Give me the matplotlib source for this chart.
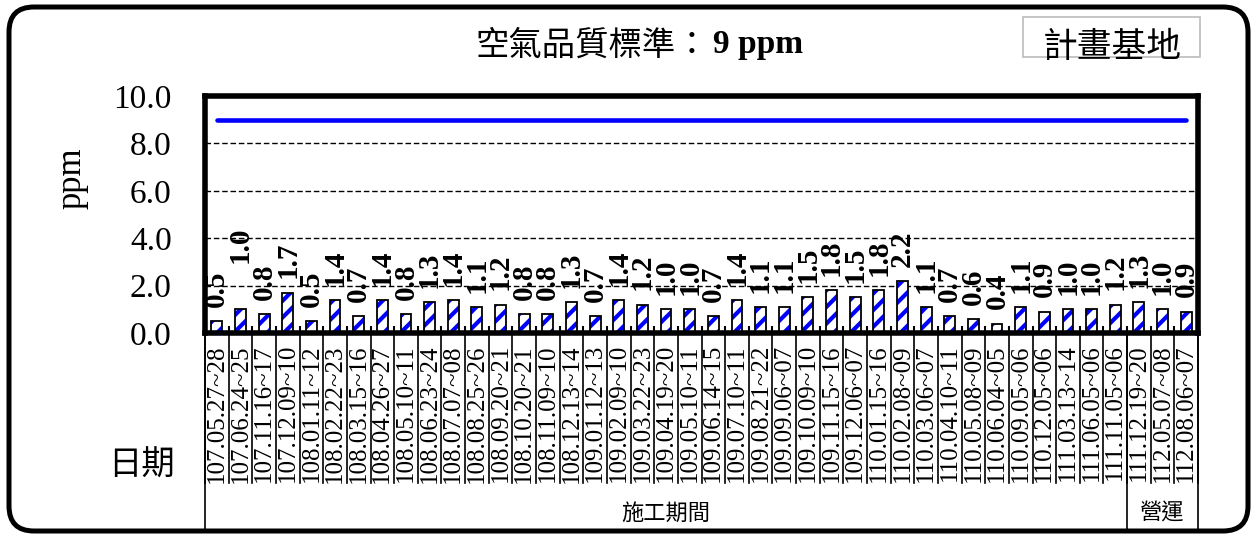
import numpy as np
import matplotlib
matplotlib.use("Agg")
import matplotlib.pyplot as plt
from matplotlib.patches import FancyBboxPatch, Rectangle
from matplotlib.transforms import IdentityTransform

# sampling dates (ROC calendar) and CO readings in ppm
dates = ["107.05.27~28", "107.06.24~25", "107.11.16~17", "107.12.09~10",
         "108.01.11~12", "108.02.22~23", "108.03.15~16", "108.04.26~27",
         "108.05.10~11", "108.06.23~24", "108.07.07~08", "108.08.25~26",
         "108.09.20~21", "108.10.20~21", "108.11.09~10", "108.12.13~14",
         "109.01.12~13", "109.02.09~10", "109.03.22~23", "109.04.19~20",
         "109.05.10~11", "109.06.14~15", "109.07.10~11", "109.08.21~22",
         "109.09.06~07", "109.10.09~10", "109.11.15~16", "109.12.06~07",
         "110.01.15~16", "110.02.08~09", "110.03.06~07", "110.04.10~11",
         "110.05.08~09", "110.06.04~05", "110.09.05~06", "110.12.05~06",
         "111.03.13~14", "111.06.05~06", "111.11.05~06", "111.12.19~20",
         "112.05.07~08", "112.08.06~07"]
values = [0.5, 1.0, 0.8, 1.7, 0.5, 1.4, 0.7, 1.4, 0.8, 1.3, 1.4, 1.1,
          1.2, 0.8, 0.8, 1.3, 0.7, 1.4, 1.2, 1.0, 1.0, 0.7, 1.4, 1.1,
          1.1, 1.5, 1.8, 1.5, 1.8, 2.2, 1.1, 0.7, 0.6, 0.4, 1.1, 0.9,
          1.0, 1.0, 1.2, 1.3, 1.0, 0.9]
standard = 9
groups = ["施工期間", "營運"]
group_sizes = [39, 3]
yticks = [0, 2, 4, 6, 8, 10]

serif = "Liberation Serif"
cjk = "Noto Sans CJK TC"
plt.rcParams["hatch.linewidth"] = 3.0

W, H = 1258, 535
fig = plt.figure(figsize=(W / 100, H / 100), dpi=100)
ax = fig.add_axes([205 / W, 1 - 333 / H, 993 / W, 237 / H])

n = len(values)
x = np.arange(n)

# striped bars: blue hatch first, then black outline on top
ax.bar(x, values, width=0.46, color="white", edgecolor="#0000FF", hatch="//", linewidth=0, zorder=3)
ax.bar(x, values, width=0.46, color="none", edgecolor="black", linewidth=1.3, zorder=4)

ax.plot(x, [standard] * n, color="#0000FF", lw=3.3, solid_capstyle="round", zorder=5)

for i, v in enumerate(values):
    off = 0.6
    if i == 1:
        off = 1.95   # this label sits higher in the original
    ax.text(i, v + off, f"{v:.1f}", rotation=90, ha="center", va="bottom",
            fontsize=21, fontweight="bold", family=serif, zorder=6)

ax.set_xlim(-0.5, n - 0.5)
ax.set_ylim(0, 10)
ax.set_yticks(yticks)
ax.set_yticklabels([f"{t:.1f}" for t in yticks], family=serif, fontsize=24)
ax.set_xticks(x)
ax.set_xticklabels(dates, rotation=90, family=serif, fontsize=18)
ax.set_xticks(np.arange(-0.5, n, 1), minor=True)
ax.tick_params(axis="y", length=0, pad=24)
ax.tick_params(axis="x", which="major", length=0, pad=8)
ax.tick_params(axis="x", which="minor", direction="in", length=5, width=1.5)
ax.yaxis.grid(True, linestyle=(0, (4, 2)), color="black", lw=1)
ax.set_axisbelow(True)
for s in ax.spines.values():
    s.set_linewidth(4)
    s.set_zorder(7)

# table lines under the axis
tr = ax.get_xaxis_transform()
y_cell = (333 - 483) / 237
y_end = (333 - 531) / 237
for b in np.arange(-0.5, n, 1):
    ax.plot([b, b], [0, y_cell], transform=tr, clip_on=False, color="black", lw=1.2)
start = -0.5
bounds = [start]
for g, size in zip(groups, group_sizes):
    end = start + size
    ax.text((start + end) / 2, (333 - 513) / 237, g, transform=tr, ha="center",
            va="center", fontsize=16, family=cjk, fontweight="light")
    bounds.append(end)
    start = end
for b in bounds:
    ax.plot([b, b], [0, y_end], transform=tr, clip_on=False, color="black", lw=1.2)

# labels around the plot
fig.text(72 / W, 1 - 178 / H, "ppm", rotation=90, ha="center", va="center",
         fontsize=25, family=serif)
fig.text(142 / W, 1 - 465 / H, "日期", ha="center", va="center", fontsize=24,
         family=cjk, fontweight="light")
fig.text(709 / W, 1 - 45 / H, "空氣品質標準：", ha="right", va="center", fontsize=24, family=cjk)
fig.text(713 / W, 1 - 45 / H, "9 ppm", ha="left", va="center", fontsize=24,
         fontweight="bold", family=serif)

fig.patches.append(Rectangle((1023, H - 57), 177, 40, transform=IdentityTransform(),
                             facecolor="white", edgecolor="#BBBBBB", lw=1.2))
fig.text(1112 / W, 1 - 48 / H, "計畫基地", ha="center", va="center", fontsize=25, family=cjk)

fig.patches.append(FancyBboxPatch((9, 4), 1239, 524, transform=IdentityTransform(),
                                  boxstyle="round,pad=0,rounding_size=25",
                                  facecolor="none", edgecolor="black", lw=3.6))

fig.savefig("out.png", dpi=100)
